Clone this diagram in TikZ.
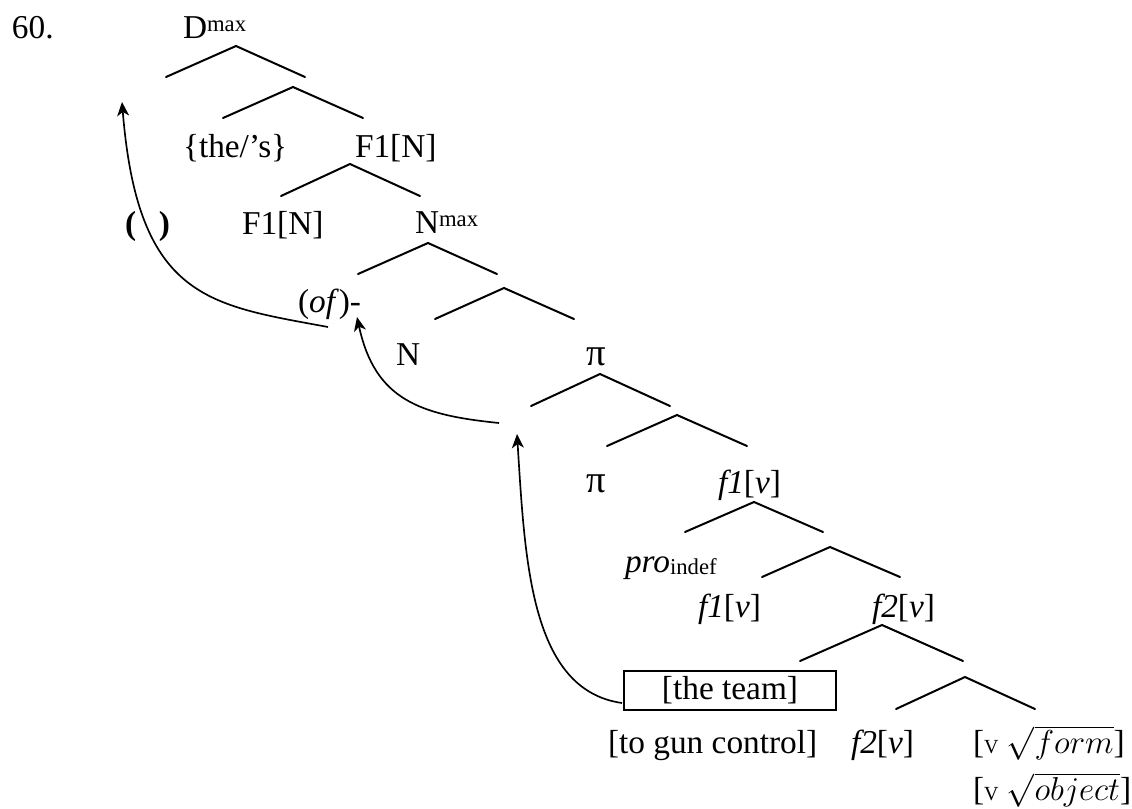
\documentclass[tikz,border=0pt]{standalone}
\usepackage{fontspec}
\setmainfont{Liberation Serif}
\usetikzlibrary{arrows.meta}
\tikzset{
  lbl/.style={inner sep=0pt, outer sep=0pt, anchor=base west, font=\fontsize{25}{30}\selectfont},
  br/.style={line width=1.5pt, line cap=round},
  mv/.style={line width=1.25pt, -{Stealth[length=10.5pt,width=9pt,inset=3pt]}},
  boxed/.style={draw, line width=1.5pt, inner sep=0pt, minimum width=159pt, minimum height=29.25pt, font=\fontsize{25}{30}\selectfont},
}
\newcommand{\sups}[1]{\raisebox{5pt}{\fontsize{17}{20}\selectfont #1}}
\newcommand{\subs}[1]{\raisebox{-1.5pt}{\fontsize{17}{20}\selectfont #1}}
\newcommand{\smallv}{{\fontsize{15}{18}\selectfont V}}
\newcommand{\bigpi}{{\fontsize{29}{30}\selectfont π}}
\newcommand{\treebranch}[7]{%
  \coordinate (#1l) at (#2,#3);
  \coordinate (#1t) at (#4,#5);
  \coordinate (#1r) at (#6,#7);
  \draw[br] (#1l) -- (#1t) -- (#1r);}
\begin{document}
\begin{tikzpicture}[x=0.75pt,y=-0.75pt]
\useasboundingbox (0,0) rectangle (1132,808);

% labels
\node[lbl] (ex)     at (12,38)   {60.};
\node[lbl] (dmax)   at (183,38)  {D\sups{max}};
\node[lbl] (the)    at (183,157) {\{the/’s\}};
\node[lbl] (f1n)    at (355,157) {F1[N]};
\node[lbl] (gap)    at (125,234) {\textbf{(}\hspace{17pt}\textbf{)}};
\node[lbl] (f1nb)   at (242,234) {F1[N]};
\node[lbl] (nmax)   at (415,233) {N\sups{max}};
\node[lbl] (of)     at (298,312) {(\textit{of})-};
\node[lbl] (n)      at (396,365) {N};
\node[lbl] (pia)    at (586,365) {\bigpi};
\node[lbl] (pib)    at (586,492) {\bigpi};
\node[lbl] (f1v)    at (718,493) {\textit{f1}[\textit{v}]};
\node[lbl] (pro)    at (625,572) {\textit{pro}\subs{indef}};
\node[lbl] (f1vb)   at (698,617) {\textit{f1}[\textit{v}]};
\node[lbl] (f2v)    at (872,617) {\textit{f2}[\textit{v}]};
\node[boxed] (team) at (730,690.5) {[the team]};
\node[lbl] (gun)    at (608,753) {[to gun control]};
\node[lbl] (f2vb)   at (851,753) {\textit{f2}[\textit{v}]};
\node[lbl] (form)   at (973,753) {[\smallv\ $\sqrt{form}$]};
\node[lbl] (object) at (973,800) {[\smallv\ $\sqrt{object}$]};

% branches
\treebranch{b1}{166}{77}{236}{46}{305}{77}
\treebranch{b2}{223}{118}{293}{87}{363}{118}
\treebranch{b3}{281}{196}{350}{164}{420}{196}
\treebranch{b4}{358}{274}{428}{243}{497}{274}
\treebranch{b5}{435}{319}{504}{288}{574}{319}
\treebranch{b6}{531}{406}{600}{374}{670}{406}
\treebranch{b7}{607}{446}{677}{415}{747}{446}
\treebranch{b8}{685}{532}{754}{502}{823}{532}
\treebranch{b9}{762}{577}{830}{547}{900}{577}
\treebranch{b10}{800}{661}{882}{625}{963}{661}
\treebranch{b11}{896}{709}{965}{677}{1035}{709}

% movement arrows
\coordinate (a1s) at (328,327);
\coordinate (a1e) at (122,102);
\draw[mv] (a1s) .. controls (210,305) and (138,300) .. (a1e);
\coordinate (a2s) at (499,423);
\coordinate (a2e) at (357,317);
\draw[mv] (a2s) .. controls (420,415) and (375,400) .. (a2e);
\coordinate (a3s) at (622,703);
\coordinate (a3e) at (517,434);
\draw[mv] (a3s) .. controls (530,690) and (525,560) .. (a3e);
\end{tikzpicture}
\end{document}
